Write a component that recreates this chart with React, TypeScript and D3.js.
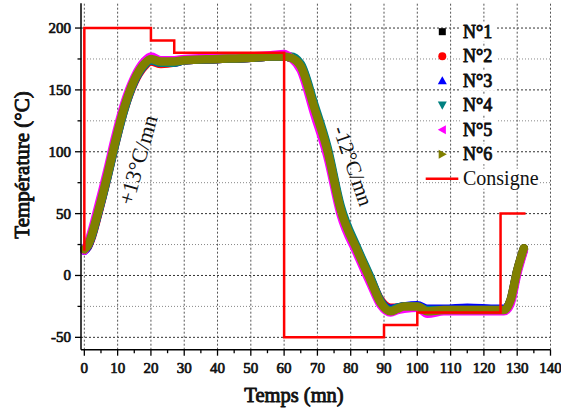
import React from "react";
import * as d3 from "d3";

const T = [0, 1, 2, 4, 7, 9, 12, 15, 18, 20, 23, 27, 30, 40, 50, 56, 60, 62, 65, 69, 73, 77, 82, 86, 89, 92, 94, 96, 100, 103, 108, 115, 124, 126, 128, 130, 132];
const N1 = [21, 24, 31, 50, 82, 105, 136, 158, 171, 175, 173, 173, 174, 175, 176, 177, 177, 176, 169, 136, 101, 53, 20, -4, -22, -29, -27, -25, -25, -29, -28, -28, -28, -28, -20, 4, 22];
const N2 = [21, 23, 29, 48, 80, 103, 134, 156, 169, 173, 171, 172, 174, 175, 176, 177, 177, 176, 169, 136, 101, 53, 20, -3, -20, -26, -26, -25, -25, -28, -28, -28, -28, -28, -21, 3, 21];
const N3 = [20, 23, 30, 49, 81, 104, 135, 157, 170, 174, 172, 172, 174, 175, 176, 177, 177, 176, 170, 137, 102, 54, 21, -3, -21, -27, -26, -25, -24, -27, -27, -26, -27, -27, -21, 3, 21];
const N4 = [22, 24, 30, 49, 80, 103, 134, 157, 170, 174, 172, 172, 174, 175, 176, 177, 177, 177, 171, 139, 104, 56, 22, -2, -21, -28, -26, -25, -25, -28, -28, -28, -28, -28, -21, 3, 21];
const N5 = [20, 26, 34, 54, 86, 109, 139, 160, 173, 177, 174, 174, 175, 176, 177, 178, 179, 176, 166, 131, 96, 49, 17, -7, -24, -30, -28, -27, -26, -31, -29, -29, -29, -29, -23, 1, 20];
const N6 = [21, 24, 31, 50, 82, 105, 136, 158, 171, 175, 173, 173, 174, 175, 176, 177, 177, 176, 169, 136, 101, 53, 20, -4, -22, -29, -27, -25, -25, -29, -28, -28, -28, -28, -20, 4, 22];

const consigneT = [0, 0, 20, 20, 27, 27, 60, 60, 90, 90, 100, 100, 125, 125, 132.5];
const consigneV = [20, 200, 200, 190, 190, 180, 180, -50, -50, -40, -40, -30, -30, 50, 50];

const seriesNames = ["N°1", "N°2", "N°3", "N°4", "N°5", "N°6"];
const seriesValues = [N1, N2, N3, N4, N5, N6];
const seriesColors = ["#000000", "#ff0000", "#0000ff", "#008080", "#ff00ff", "#808000"];
const symbols = ["square", "circle", "up", "down", "left", "right"];

const xTicksMajor = [0, 10, 20, 30, 40, 50, 60, 70, 80, 90, 100, 110, 120, 130, 140];
const yTicksMajor = [-50, 0, 50, 100, 150, 200];

const FONT = "Liberation Serif, Times New Roman, Times, serif";

export default function App() {
  const x = d3.scaleLinear().domain([-1, 140]).range([81, 550.5]);
  const y = d3.scaleLinear().domain([-60, 220]).range([349.7, 3.3]);

  const line = d3
    .line<[number, number]>()
    .x((d) => x(d[0]))
    .y((d) => y(d[1]))
    .curve(d3.curveMonotoneX);
  const step = d3
    .line<[number, number]>()
    .x((d) => x(d[0]))
    .y((d) => y(d[1]));

  const xMinor = d3.range(0, 141, 5);
  const yMinor = d3.range(-50, 201, 25);
  const xGrid = d3.range(0, 141, 10);

  const legendX = 442.3;
  const legendY0 = 31.7;
  const legendDy = 24.5;

  const txt = (size: number) => ({ fontFamily: FONT, fill: "#111", fontSize: size + "px" });
  const bold = (size: number, sw = 0.8) => ({
    fontFamily: FONT,
    fill: "#111",
    fontSize: size + "px",
    stroke: "#111",
    strokeWidth: sw,
    strokeLinejoin: "round" as const,
  });

  const sym = (kind: string, cx: number, cy: number, color: string) => {
    const s = 4.5;
    switch (kind) {
      case "square":
        return <rect x={cx - 3.5} y={cy - 3.5} width={7} height={7} fill={color} />;
      case "circle":
        return <circle cx={cx} cy={cy} r={4} fill={color} />;
      case "up":
        return <path d={`M${cx},${cy - s} L${cx + s},${cy + s * 0.8} L${cx - s},${cy + s * 0.8}Z`} fill={color} />;
      case "down":
        return <path d={`M${cx},${cy + s} L${cx + s},${cy - s * 0.8} L${cx - s},${cy - s * 0.8}Z`} fill={color} />;
      case "left":
        return <path d={`M${cx - s},${cy} L${cx + s * 0.8},${cy - s} L${cx + s * 0.8},${cy + s}Z`} fill={color} />;
      default:
        return <path d={`M${cx + s},${cy} L${cx - s * 0.8},${cy - s} L${cx - s * 0.8},${cy + s}Z`} fill={color} />;
    }
  };

  return (
    <svg width={561} height={417} style={{ position: "absolute", left: 0, top: 0, background: "#fff" }}>
      <rect x={0} y={0} width={561} height={417} fill="#fff" />
      {/* grid */}
      {yMinor.map((v) => (
        <line
          key={"hy" + v}
          x1={x(-1)}
          x2={x(140)}
          y1={y(v)}
          y2={y(v)}
          stroke={v % 50 === 0 ? "#333" : "#888"}
          strokeWidth={1}
          strokeDasharray={v % 50 === 0 ? "2,2" : "1,2"}
        />
      ))}
      {xGrid.map((v) => (
        <line
          key={"vx" + v}
          x1={x(v)}
          x2={x(v)}
          y1={y(-60)}
          y2={y(220)}
          stroke="#555"
          strokeWidth={1}
          strokeDasharray="2,2"
        />
      ))}
      {/* series */}
      {seriesValues.map((vals, i) => (
        <path
          key={"s" + i}
          d={line(T.map((t, j) => [t, vals[j]] as [number, number])) || ""}
          fill="none"
          stroke={seriesColors[i]}
          strokeWidth={8.5}
          strokeLinejoin="round"
          strokeLinecap="round"
        />
      ))}
      {/* consigne */}
      <path
        d={step(consigneT.map((t, j) => [t, consigneV[j]] as [number, number])) || ""}
        fill="none"
        stroke="#ff0000"
        strokeWidth={2.5}
      />
      {/* axes */}
      <line x1={x(-1)} x2={x(-1)} y1={y(-60)} y2={y(220)} stroke="#000" strokeWidth={1.5} />
      <line x1={x(-1)} x2={x(140)} y1={y(-60)} y2={y(-60)} stroke="#000" strokeWidth={1.5} />
      {xMinor.map((v) => (
        <line
          key={"xt" + v}
          x1={x(v)}
          x2={x(v)}
          y1={y(-60)}
          y2={y(-60) + (v % 10 === 0 ? 6 : 3.5)}
          stroke="#000"
          strokeWidth={1.3}
        />
      ))}
      {yMinor.map((v) => (
        <line
          key={"yt" + v}
          x1={x(-1)}
          x2={x(-1) - (v % 50 === 0 ? 6 : 3.5)}
          y1={y(v)}
          y2={y(v)}
          stroke="#000"
          strokeWidth={1.3}
        />
      ))}
      {xTicksMajor.map((v) => (
        <text key={"xl" + v} x={x(v)} y={373} textAnchor="middle" style={bold(15, 0.7)}>
          {v}
        </text>
      ))}
      {yTicksMajor.map((v) => (
        <text key={"yl" + v} x={71} y={y(v) + 5} textAnchor="end" style={bold(15, 0.7)}>
          {v}
        </text>
      ))}
      {/* axis titles */}
      <text x={294} y={402} textAnchor="middle" style={bold(20.5, 0.9)}>
        Temps (mn)
      </text>
      <text transform="translate(29,165) rotate(-90)" textAnchor="middle" style={bold(21, 0.9)}>
        Température (°C)
      </text>
      {/* annotations */}
      <text
        transform="translate(138,160) rotate(-74)"
        textAnchor="middle"
        dominantBaseline="central"
        style={txt(22)}
      >
        +13°C/mn
      </text>
      <text
        transform="translate(353,166) rotate(71)"
        textAnchor="middle"
        dominantBaseline="central"
        style={txt(21)}
      >
        -12°C/mn
      </text>
      {/* legend */}
      {seriesNames.map((n, i) => {
        const cy = legendY0 + i * legendDy;
        return (
          <g key={"lg" + i}>
            <rect x={461} y={cy - 10} width={36} height={20} fill="#fff" />
            {sym(symbols[i], legendX, cy, seriesColors[i])}
            <text x={463} y={cy + 6} style={bold(18, 0.9)}>
              {n}
            </text>
          </g>
        );
      })}
      <g>
        <rect x={461} y={legendY0 + 6 * legendDy - 10} width={78} height={20} fill="#fff" />
        <line
          x1={425.7}
          x2={458.3}
          y1={legendY0 + 6 * legendDy}
          y2={legendY0 + 6 * legendDy}
          stroke="#ff0000"
          strokeWidth={2.5}
        />
        <text x={463} y={legendY0 + 6 * legendDy + 6} style={txt(20)}>
          Consigne
        </text>
      </g>
    </svg>
  );
}
